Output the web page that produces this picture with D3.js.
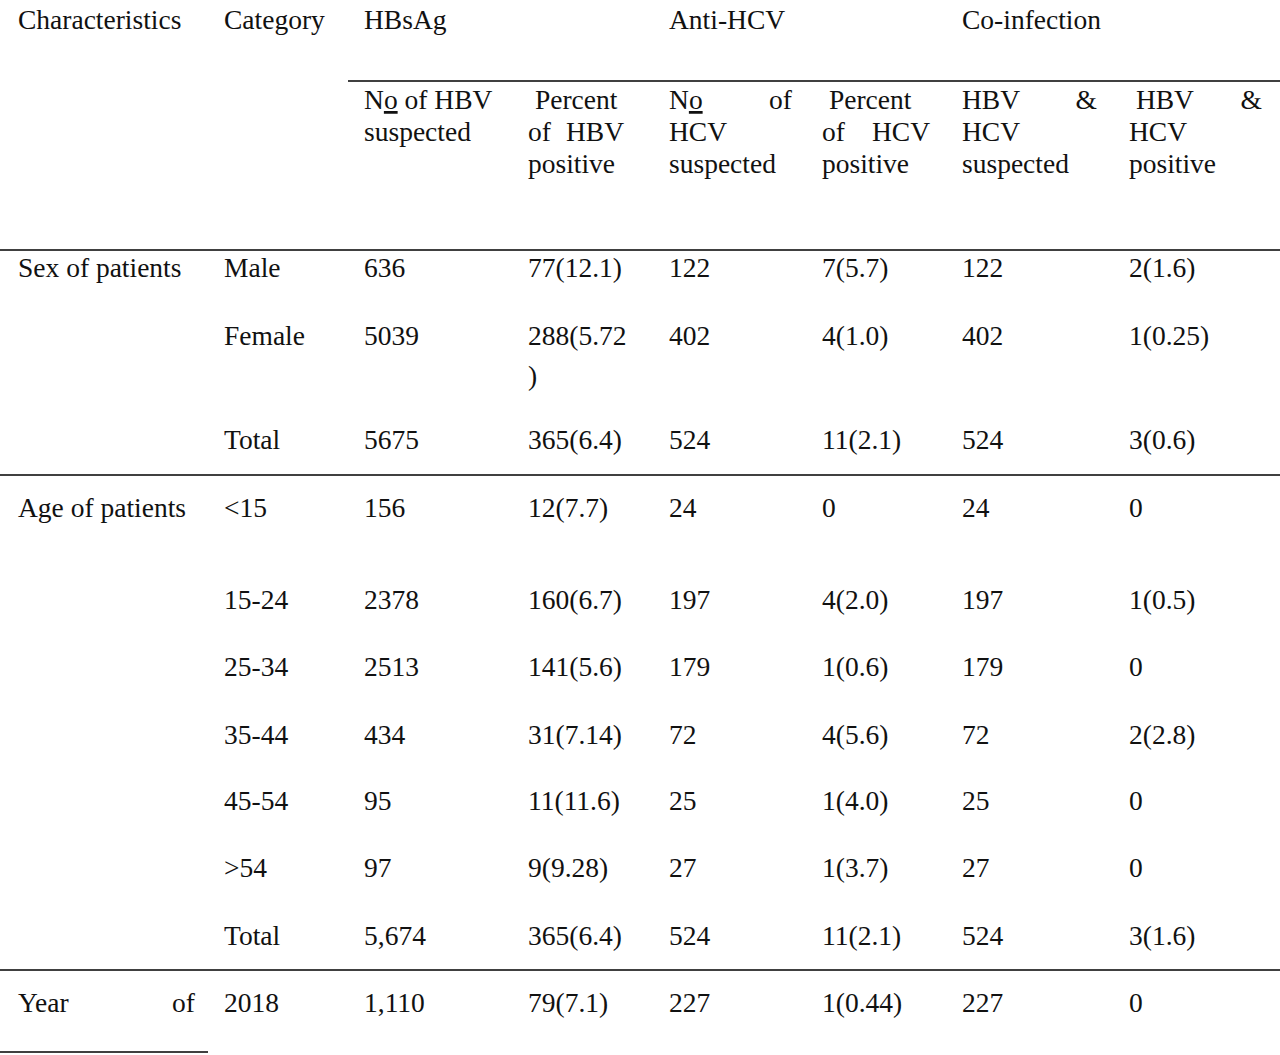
<!DOCTYPE html>
<html><head><meta charset="utf-8">
<script src="https://cdn.jsdelivr.net/npm/d3@7"></script>
<style>body{margin:0;background:#fff}text{font-family:"Liberation Serif","Times New Roman",serif;font-size:27.5px;fill:#111}</style>
</head><body><svg id="t" width="1280" height="1055"></svg>
<script>
const columns = ['Characteristics', 'Category', 'HBsAg', 'Anti-HCV', 'Co-infection'];
const colX = [18, 224, 364, 528, 669, 822, 962, 1129];
const groupCol = [0, 1, 2, 4, 6];
// sub headers: each line is [left word, right word or null] for justified lines; |x| marks underlined part
const subHeaders = [
  [['N|o| of HBV', null], ['suspected', null]],
  [[' Percent', null], ['of', 'HBV'], ['positive', null]],
  [['N|o|', 'of'], ['HCV', null], ['suspected', null]],
  [[' Percent', null], ['of', 'HCV'], ['positive', null]],
  [['HBV', '&'], ['HCV', null], ['suspected', null]],
  [[' HBV', '&'], ['HCV', null], ['positive', null]]
];
const subRight = [498, 624, 792, 930, 1097, 1262];
const rows = [
  ['Sex of patients', 'Male', '636', '77(12.1)', '122', '7(5.7)', '122', '2(1.6)'],
  ['', 'Female', '5039', '288(5.72\n)', '402', '4(1.0)', '402', '1(0.25)'],
  ['', 'Total', '5675', '365(6.4)', '524', '11(2.1)', '524', '3(0.6)'],
  ['Age of patients', '<15', '156', '12(7.7)', '24', '0', '24', '0'],
  ['', '15-24', '2378', '160(6.7)', '197', '4(2.0)', '197', '1(0.5)'],
  ['', '25-34', '2513', '141(5.6)', '179', '1(0.6)', '179', '0'],
  ['', '35-44', '434', '31(7.14)', '72', '4(5.6)', '72', '2(2.8)'],
  ['', '45-54', '95', '11(11.6)', '25', '1(4.0)', '25', '0'],
  ['', '>54', '97', '9(9.28)', '27', '1(3.7)', '27', '0'],
  ['', 'Total', '5,674', '365(6.4)', '524', '11(2.1)', '524', '3(1.6)'],
  ['Year~of', '2018', '1,110', '79(7.1)', '227', '1(0.44)', '227', '0']
];
const rowY = [268, 336, 440, 508, 600, 667, 735, 801, 868, 936, 1003];

const svg = d3.select('#t');
const lineH = 32, base = 9;

function writeWord(g, x, y, s, anchor) {
  const t = g.append('text').attr('x', x).attr('y', y).attr('text-anchor', anchor || 'start')
    .style('white-space', 'pre');
  s.split('|').forEach((part, i) => {
    if (!part) return;
    const sp = t.append('tspan').text(part);
    if (i % 2 === 1) sp.attr('text-decoration', 'underline');
  });
}

// group headers
columns.forEach((c, i) => writeWord(svg, colX[groupCol[i]], 20 + base, c));

// sub headers
subHeaders.forEach((lines, i) => {
  lines.forEach((ln, j) => {
    const y = 100 + j * lineH + base;
    writeWord(svg, colX[i + 2], y, ln[0]);
    if (ln[1]) writeWord(svg, subRight[i], y, ln[1], 'end');
  });
});

// body
rows.forEach((r, ri) => {
  r.forEach((v, ci) => {
    if (!v) return;
    if (v.includes('~')) {
      const [a, b] = v.split('~');
      writeWord(svg, colX[0], rowY[ri] + base, a);
      writeWord(svg, 195, rowY[ri] + base, b, 'end');
      return;
    }
    v.split('\n').forEach((part, k) => writeWord(svg, colX[ci], rowY[ri] + base + k * 40, part));
  });
});

// rules
const rules = [[348, 1280, 81], [0, 1280, 250], [0, 1280, 475], [0, 1280, 970], [0, 208, 1052]];
svg.selectAll('line.rule').data(rules).enter().append('line')
  .attr('x1', d => d[0]).attr('x2', d => d[1]).attr('y1', d => d[2]).attr('y2', d => d[2])
  .attr('stroke', '#000').attr('stroke-width', 1.3);
</script></body></html>
